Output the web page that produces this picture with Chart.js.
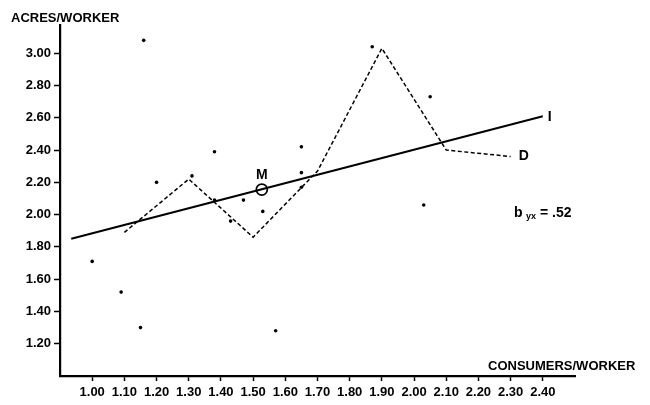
<!DOCTYPE html>
<html>
<head>
<meta charset="utf-8">
<script src="https://cdn.jsdelivr.net/npm/chart.js@4.4.1/dist/chart.umd.min.js"></script>
<style>
  html, body { margin: 0; padding: 0; background: #fff; }
  #c { display: block; }
</style>
</head>
<body>
<canvas id="c" width="650" height="405"></canvas>
<script>
// ---- data ----
const scatterX = [1.00, 1.09, 1.15, 1.16, 1.20, 1.31, 1.38, 1.38, 1.43, 1.47, 1.53, 1.57, 1.65, 1.65, 1.65, 1.87, 2.03, 2.05];
const scatterY = [1.71, 1.52, 1.30, 3.08, 2.20, 2.24, 2.39, 2.09, 1.96, 2.09, 2.02, 1.28, 2.42, 2.26, 2.17, 3.04, 2.06, 2.73];
const meanX = [1.10, 1.30, 1.50, 1.70, 1.90, 2.10, 2.30];
const meanY = [1.89, 2.22, 1.86, 2.27, 3.03, 2.40, 2.36];
const regX = [0.935, 2.40];
const regY = [1.85, 2.61];
const meanPointX = [1.527];
const meanPointY = [2.155];
const xTicks = [1.00, 1.10, 1.20, 1.30, 1.40, 1.50, 1.60, 1.70, 1.80, 1.90, 2.00, 2.10, 2.20, 2.30, 2.40];
const yTicks = [1.20, 1.40, 1.60, 1.80, 2.00, 2.20, 2.40, 2.60, 2.80, 3.00];
const yTitle = 'ACRES/WORKER';
const xTitle = 'CONSUMERS/WORKER';
const slopeText = { b: 'b', sub: 'yx', rest: '= .52' };

const zip = (xs, ys) => xs.map((x, i) => ({ x: x, y: ys[i] }));
const FONT = '"Liberation Sans", Arial, sans-serif';

const labelsPlugin = {
  id: 'labels',
  afterDatasetsDraw(chart) {
    const ctx = chart.ctx;
    const xs = chart.scales.x, ys = chart.scales.y;
    ctx.save();
    ctx.fillStyle = '#000';
    ctx.font = 'bold 13px ' + FONT;
    ctx.textBaseline = 'alphabetic';
    ctx.textAlign = 'left';
    // axis titles
    ctx.fillText(yTitle, 11, 22);
    ctx.fillText(xTitle, 488, 370);
    // M label above mean point
    ctx.font = 'bold 14px ' + FONT;
    ctx.textAlign = 'center';
    ctx.textBaseline = 'middle';
    ctx.fillText('M', xs.getPixelForValue(meanPointX[0]), ys.getPixelForValue(meanPointY[0]) - 14);
    // I at end of regression line
    ctx.textAlign = 'left';
    ctx.fillText('I', xs.getPixelForValue(regX[1]) + 5, ys.getPixelForValue(regY[1]) + 1);
    // D at end of means line
    const n = meanX.length - 1;
    ctx.fillText('D', xs.getPixelForValue(meanX[n]) + 8, ys.getPixelForValue(meanY[n]));
    // slope annotation
    ctx.textBaseline = 'alphabetic';
    ctx.font = 'bold 14px ' + FONT;
    ctx.fillText(slopeText.b, 514, 217);
    ctx.font = 'bold 9px ' + FONT;
    ctx.fillText(slopeText.sub, 526, 219);
    ctx.font = 'bold 14px ' + FONT;
    ctx.fillText(slopeText.rest, 540, 217);
    ctx.restore();
  }
};

const tickFont = { family: FONT, size: 13, weight: 'bold' };

new Chart(document.getElementById('c'), {
  type: 'scatter',
  data: {
    datasets: [
      {
        data: zip(scatterX, scatterY),
        showLine: false,
        pointRadius: 1.8,
        pointBackgroundColor: '#000',
        pointBorderWidth: 0
      },
      {
        data: zip(regX, regY),
        showLine: true,
        borderColor: '#000',
        borderWidth: 2,
        pointRadius: 0
      },
      {
        data: zip(meanX, meanY),
        showLine: true,
        borderColor: '#000',
        borderWidth: 1.5,
        borderDash: [4, 2.5],
        pointRadius: 0
      },
      {
        data: zip(meanPointX, meanPointY),
        showLine: false,
        pointRadius: 5.5,
        pointStyle: 'circle',
        pointBorderColor: '#000',
        pointBorderWidth: 1.7,
        pointBackgroundColor: 'rgba(255,255,255,0)'
      }
    ]
  },
  options: {
    responsive: false,
    animation: false,
    layout: { padding: { left: 0, top: 25, right: 75, bottom: 0 } },
    plugins: { legend: { display: false }, tooltip: { enabled: false } },
    scales: {
      x: {
        type: 'linear',
        min: 0.90,
        max: 2.50,
        afterBuildTicks: s => { s.ticks = xTicks.map(v => ({ value: v })); },
        afterFit: s => { s.height = 29; },
        ticks: {
          callback: v => Number(v).toFixed(2),
          font: tickFont,
          color: '#000',
          padding: 4,
          autoSkip: false,
          maxRotation: 0
        },
        grid: { drawOnChartArea: false, drawTicks: true, tickLength: 5, tickColor: '#000', tickWidth: 1.5 },
        border: { display: true, color: '#000', width: 2.2 }
      },
      y: {
        type: 'linear',
        min: 1.00,
        max: 3.175,
        afterBuildTicks: s => { s.ticks = yTicks.map(v => ({ value: v })); },
        afterFit: s => { s.width = 60; },
        ticks: {
          callback: v => Number(v).toFixed(2),
          font: tickFont,
          color: '#000',
          padding: 3,
          autoSkip: false
        },
        grid: { drawOnChartArea: false, drawTicks: true, tickLength: 6, tickColor: '#000', tickWidth: 1.5 },
        border: { display: true, color: '#000', width: 2.2 }
      }
    }
  },
  plugins: [labelsPlugin]
});
</script>
</body>
</html>
